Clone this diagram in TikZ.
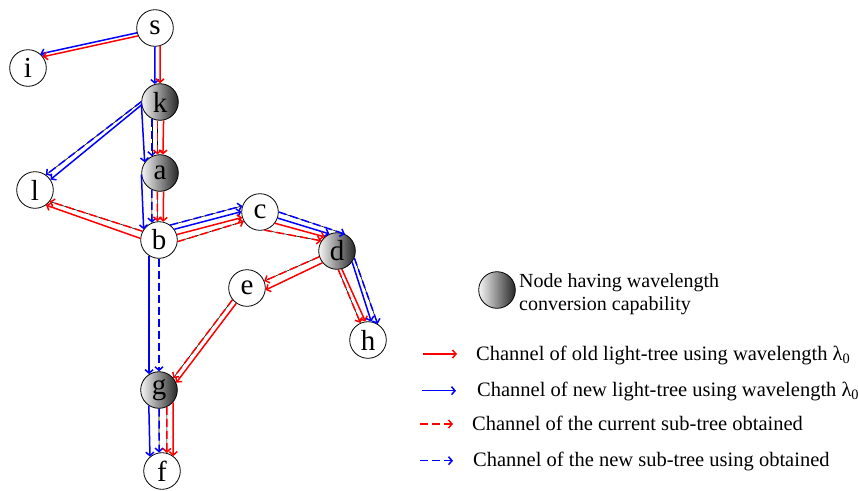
\documentclass[tikz,border=0pt]{standalone}
\usepackage{fontspec}
\setmainfont{Liberation Serif}
\usetikzlibrary{arrows.meta}
\begin{document}
\begin{tikzpicture}[x=1pt, y=-1pt,
	>={Straight Barb[length=3.5pt,width=8pt]},
	plain/.style={circle, draw, line width=0.8pt, minimum size=36.6pt, inner sep=0pt, font=\fontsize{29}{29}\selectfont},
	conv/.style={plain, left color=gray!8, right color=black!85},
	oldch/.style={red, line width=1.5pt, ->},
	newch/.style={blue, line width=1.5pt, ->},
	cursub/.style={oldch, dash pattern=on 8pt off 4pt},
	newsub/.style={newch, dash pattern=on 8pt off 4pt},
	onlink/.style={preaction={draw=black, line width=0.6pt, solid, -}},
	legend/.style={anchor=base west, inner sep=0pt, font=\fontsize{20.5}{24}\selectfont}]
	\useasboundingbox (0,0) rectangle (858,490);
	\node[plain] (s) at (155,28) {s};
	\node[plain] (i) at (28,68) {i};
	\node[conv] (k) at (160,102) {k};
	\node[conv] (a) at (160,173) {a};
	\node[plain] (l) at (35,190) {l};
	\node[plain] (b) at (159,240) {b};
	\node[plain] (c) at (260,212) {c};
	\node[conv] (d) at (337,251) {d};
	\node[plain] (e) at (247,288) {e};
	\node[plain] (h) at (368,340) {h};
	\node[conv] (g) at (159,390) {g};
	\node[plain] (f) at (162,471) {f};
	\draw[newch] (s.195) -- (i.49);
	\draw[oldch] (s.205) -- (i.37);
	\draw[newch] (s.270) -- (k.106);
	\draw[oldch] (s.286) -- (k.90);
	\draw[newsub, onlink] (k.179) -- (l.54);
	\draw[newch] (k.189) -- (l.34);
	\draw[newch] (k.185) -- (a.145);
	\draw[newsub, onlink] (k.244) -- (a.116);
	\draw[cursub, onlink] (k.262) -- (a.98);
	\draw[oldch] (k.281) -- (a.81);
	\draw[newch] (a.185) -- (b.145);
	\draw[newsub, onlink] (a.244) -- (b.112);
	\draw[cursub, onlink] (a.262) -- (b.95);
	\draw[oldch] (a.281) -- (b.77);
	\draw[cursub, onlink] (b.152) -- (l.322);
	\draw[oldch] (b.175) -- (l.306);
	\draw[newsub, onlink] (b.53) -- (c.161);
	\draw[newch] (b.35) -- (c.179);
	\draw[oldch] (b.17) -- (c.197);
	\draw[cursub, onlink] (b.355) -- (c.210);
	\draw[newsub, onlink] (c.0) -- (d.65);
	\draw[newch] (c.341) -- (d.114);
	\draw[oldch] (c.323) -- (d.131);
	\draw[cursub, onlink] (c.284) -- (d.147);
	\draw[cursub, onlink] (d.198) -- (e.22);
	\draw[oldch] (d.219) -- (e.354);
	\draw[cursub, onlink] (d.274) -- (h.114);
	\draw[oldch] (d.285) -- (h.98);
	\draw[newch] (d.324) -- (h.80);
	\draw[newsub, onlink] (d.338) -- (h.59);
	\draw[cursub, onlink] (e.219) -- (g.40);
	\draw[oldch] (e.235) -- (g.23);
	\draw[newch] (b.238) -- (g.122);
	\draw[newsub] (b.270) -- (g.90);
	\draw[newch] (g.237) -- (f.130);
	\draw[newsub, onlink] (g.270) -- (f.99);
	\draw[cursub, onlink] (g.295) -- (f.75);
	\draw[oldch] (g.319) -- (f.53);
	\node[conv] (cap) at (497,290) {};
	\node[anchor=west, inner sep=0pt, align=left, font=\fontsize{20}{23}\selectfont] (captxt) at (519,294) {Node having wavelength\\conversion capability};
	\node[legend] (lold) at (476,360) {Channel of old light-tree using wavelength λ\textsubscript{0}};
	\node[legend] (lnew) at (477,396.7) {Channel of new light-tree using wavelength λ\textsubscript{0}};
	\node[legend] (lcur) at (472,430) {Channel of the current sub-tree obtained};
	\node[legend] (lsub) at (473,466.7) {Channel of the new sub-tree using obtained};
	\draw[oldch] ([shift={(-53pt,6pt)}]lold.base west) -- ([shift={(-19pt,6pt)}]lold.base west);
	\draw[newch] ([shift={(-55pt,6pt)}]lnew.base west) -- ([shift={(-21pt,6pt)}]lnew.base west);
	\draw[cursub] ([shift={(-52pt,6pt)}]lcur.base west) -- ([shift={(-19pt,6pt)}]lcur.base west);
	\draw[newsub] ([shift={(-53pt,6pt)}]lsub.base west) -- ([shift={(-20pt,6pt)}]lsub.base west);
\end{tikzpicture}
\end{document}
